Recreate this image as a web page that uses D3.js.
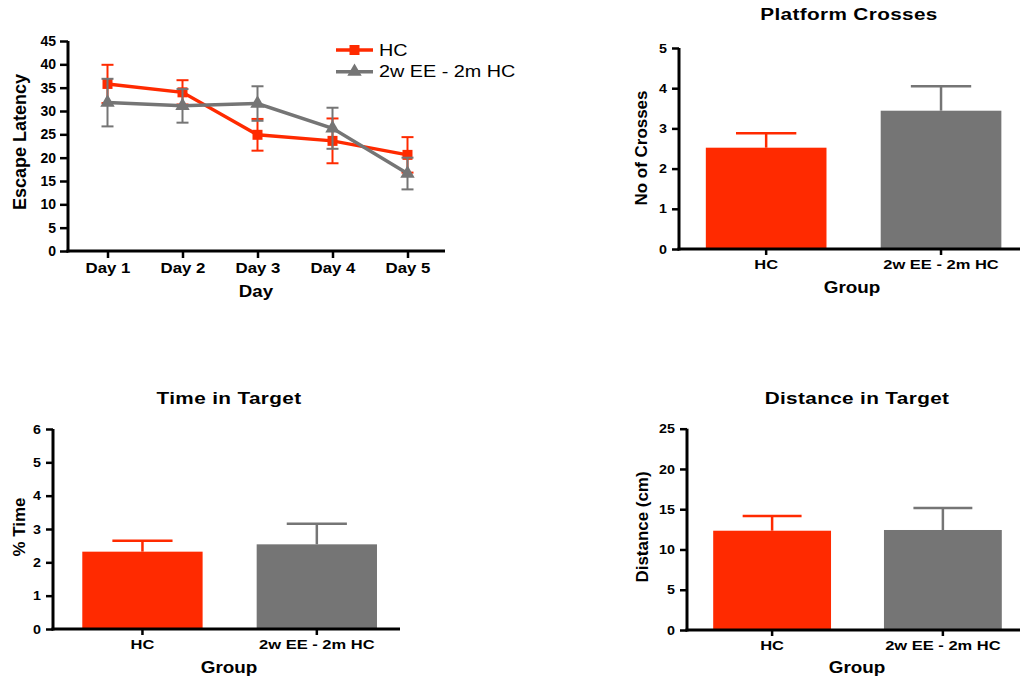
<!DOCTYPE html>
<html>
<head>
<meta charset="utf-8">
<script src="https://cdn.jsdelivr.net/npm/d3@7"></script>
<style>
  html, body { margin: 0; padding: 0; background: #fff; }
  svg { display: block; }
  text { font-family: "Liberation Sans", Arial, sans-serif; fill: #000; }
</style>
</head>
<body>
<svg id="fig" width="1021" height="678"></svg>
<script>
// ---- Data ----------------------------------------------------------------
const days = ["Day 1", "Day 2", "Day 3", "Day 4", "Day 5"];
const seriesNames = ["HC", "2w EE - 2m HC"];
const hcLatency = [35.8, 34.0, 24.9, 23.6, 20.6];
const hcLatencyErr = [4.1, 2.6, 3.4, 4.8, 3.8];
const eeLatency = [31.8, 31.1, 31.6, 26.3, 16.6];
const eeLatencyErr = [5.1, 3.6, 3.7, 4.4, 3.4];
const latencyTicks = [0, 5, 10, 15, 20, 25, 30, 35, 40, 45];

const groups = ["HC", "2w EE - 2m HC"];
const crossesMean = [2.52, 3.44];
const crossesErr = [0.36, 0.61];
const crossesTicks = [0, 1, 2, 3, 4, 5];

const timeMean = [2.32, 2.54];
const timeErr = [0.33, 0.62];
const timeTicks = [0, 1, 2, 3, 4, 5, 6];

const distMean = [12.33, 12.42];
const distErr = [1.83, 2.73];
const distTicks = [0, 5, 10, 15, 20, 25];

// ---- Styling -------------------------------------------------------------
const RED = "#ff2a00";
const GREY = "#757575";
const colors = [RED, GREY];

const svg = d3.select("#fig");

function styleAxis(g, fontSize, stretch) {
  g.select(".domain").remove();
  g.selectAll(".tick line").attr("stroke", "#000").attr("stroke-width", 2.5);
  g.selectAll(".tick text")
    .attr("fill", "#000")
    .style("font-size", fontSize + "px")
    .style("font-weight", "bold")
    .style("font-family", '"Liberation Sans", Arial, sans-serif');
  if (stretch) {
    g.selectAll(".tick text").attr("transform", `scale(${stretch},1)`);
  }
}

function axisLines(g, x0, x1, y0, y1) {
  // y axis
  g.append("line").attr("x1", x0).attr("x2", x0).attr("y1", y1).attr("y2", y0 + 1.5)
    .attr("stroke", "#000").attr("stroke-width", 3);
  // x axis
  g.append("line").attr("x1", x0 - 1.5).attr("x2", x1).attr("y1", y0).attr("y2", y0)
    .attr("stroke", "#000").attr("stroke-width", 3);
}

function label(g, txt, x, y, size, opts = {}) {
  const t = g.append("text")
    .attr("text-anchor", "middle")
    .style("font-size", size + "px")
    .style("font-weight", opts.weight || "bold")
    .text(txt);
  const sx = opts.stretch || 1;
  if (opts.rotate) {
    t.attr("transform", `translate(${x},${y}) rotate(-90) scale(${sx},1)`);
  } else {
    t.attr("transform", `translate(${x},${y}) scale(${sx},1)`);
  }
  if (opts.spacing) t.style("letter-spacing", opts.spacing + "px");
  return t;
}

// ---- Panel 1: escape latency line chart ------------------------------------
(function () {
  const g = svg.append("g");
  const x0 = 68, x1 = 445, yBase = 251, yTop = 41;
  const x = d3.scalePoint().domain(days).range([70, 445]).padding(0.5);
  const y = d3.scaleLinear().domain([0, 45]).range([yBase, yTop]);

  const ya = g.append("g").attr("transform", `translate(${x0},0)`)
    .call(d3.axisLeft(y).tickValues(latencyTicks).tickSize(8).tickPadding(4).tickFormat(d3.format("d")));
  styleAxis(ya, 14);
  const xa = g.append("g").attr("transform", `translate(0,${yBase})`)
    .call(d3.axisBottom(x).tickSize(7).tickPadding(4));
  styleAxis(xa, 15, 1.12);
  axisLines(g, x0, x1, yBase, yTop);

  label(g, "Escape Latency", 26, 142, 18, { rotate: true });
  label(g, "Day", 256, 297, 17, { stretch: 1.1 });

  const series = [
    { name: seriesNames[0], mean: hcLatency, err: hcLatencyErr, color: RED, shape: "square" },
    { name: seriesNames[1], mean: eeLatency, err: eeLatencyErr, color: GREY, shape: "triangle" }
  ];
  const line = d3.line().x((d, i) => x(days[i])).y(d => y(d));
  const symSquare = d3.symbol().type(d3.symbolSquare).size(100);
  const symTri = d3.symbol().type(d3.symbolTriangle).size(90);

  series.forEach(s => {
    const sg = g.append("g");
    // error bars
    s.mean.forEach((m, i) => {
      const cx = x(days[i]);
      const hi = y(m + s.err[i]), lo = y(m - s.err[i]);
      sg.append("line").attr("x1", cx).attr("x2", cx).attr("y1", hi).attr("y2", lo)
        .attr("stroke", s.color).attr("stroke-width", 2);
      [hi, lo].forEach(yy => sg.append("line")
        .attr("x1", cx - 6).attr("x2", cx + 6).attr("y1", yy).attr("y2", yy)
        .attr("stroke", s.color).attr("stroke-width", 2));
    });
    sg.append("path").datum(s.mean).attr("d", line)
      .attr("fill", "none").attr("stroke", s.color).attr("stroke-width", 3.5);
    sg.selectAll(".pt").data(s.mean).join("path")
      .attr("transform", (d, i) => `translate(${x(days[i])},${y(d)})`)
      .attr("d", s.shape === "square" ? symSquare : symTri)
      .attr("fill", s.color);
  });

  // legend
  const lg = g.append("g");
  series.forEach((s, i) => {
    const ly = 50 + i * 21.7;
    lg.append("line").attr("x1", 336).attr("x2", 373).attr("y1", ly).attr("y2", ly)
      .attr("stroke", s.color).attr("stroke-width", 3.5);
    lg.append("path").attr("transform", `translate(354.5,${ly})`)
      .attr("d", s.shape === "square" ? symSquare : symTri).attr("fill", s.color);
    lg.append("text").attr("transform", `translate(379,${ly + 5.5}) scale(1.2,1)`)
      .style("font-size", "16.5px").style("font-weight", "normal").text(s.name);
  });
})();

// ---- Bar chart helper -------------------------------------------------------
function barPanel(cfg) {
  const g = svg.append("g");
  const x = d3.scaleBand().domain(groups).range([cfg.x0, cfg.x1])
    .paddingInner(0.31).paddingOuter(cfg.po).align(cfg.align);
  const y = d3.scaleLinear().domain([0, cfg.max]).range([cfg.yBase, cfg.yTop]);

  // bars
  g.selectAll(".bar").data(cfg.mean).join("rect")
    .attr("x", (d, i) => x(groups[i]))
    .attr("width", x.bandwidth())
    .attr("y", d => y(d))
    .attr("height", d => cfg.yBase - y(d))
    .attr("fill", (d, i) => colors[i]);

  // upward error bars (SEM)
  cfg.mean.forEach((m, i) => {
    const cx = x(groups[i]) + x.bandwidth() / 2;
    const top = y(m + cfg.err[i]);
    g.append("line").attr("x1", cx).attr("x2", cx).attr("y1", y(m)).attr("y2", top)
      .attr("stroke", colors[i]).attr("stroke-width", 2.5);
    g.append("line").attr("x1", cx - x.bandwidth() / 4).attr("x2", cx + x.bandwidth() / 4)
      .attr("y1", top).attr("y2", top)
      .attr("stroke", colors[i]).attr("stroke-width", 2.5);
  });

  const ya = g.append("g").attr("transform", `translate(${cfg.x0},0)`)
    .call(d3.axisLeft(y).tickValues(cfg.ticks).tickSize(7).tickPadding(4).tickFormat(d3.format("d")));
  styleAxis(ya, 13, 1.1);
  const xa = g.append("g").attr("transform", `translate(0,${cfg.yBase})`)
    .call(d3.axisBottom(x).tickSize(6).tickPadding(5));
  styleAxis(xa, 13, 1.27);
  axisLines(g, cfg.x0, cfg.x1, cfg.yBase, cfg.yTop);

  label(g, cfg.title, cfg.titleX, cfg.titleY, 17, { stretch: 1.22, spacing: 0.3 });
  label(g, cfg.ylabel, cfg.ylabelX, cfg.ylabelY, 16, { rotate: true, stretch: 1.06 });
  label(g, "Group", cfg.groupX, cfg.groupY, 16, { stretch: 1.18 });
}

barPanel({
  title: "Platform Crosses", titleX: 849, titleY: 20,
  ylabel: "No of Crosses", ylabelX: 647, ylabelY: 148,
  groupX: 852, groupY: 293,
  x0: 679, x1: 1020, yBase: 249, yTop: 48, max: 5, ticks: crossesTicks,
  po: 0.13, align: 0.59,
  mean: crossesMean, err: crossesErr
});

barPanel({
  title: "Time in Target", titleX: 229, titleY: 404,
  ylabel: "% Time", ylabelX: 25, ylabelY: 527,
  groupX: 229, groupY: 673,
  x0: 53, x1: 400, yBase: 629, yTop: 429, max: 6, ticks: timeTicks,
  po: 0.15, align: 0.56,
  mean: timeMean, err: timeErr
});

barPanel({
  title: "Distance in Target", titleX: 857, titleY: 404,
  ylabel: "Distance (cm)", ylabelX: 648, ylabelY: 527,
  groupX: 857, groupY: 673,
  x0: 687, x1: 1020, yBase: 630, yTop: 428.7, max: 25, ticks: distTicks,
  po: 0.13, align: 0.59,
  mean: distMean, err: distErr
});
</script>
</body>
</html>
